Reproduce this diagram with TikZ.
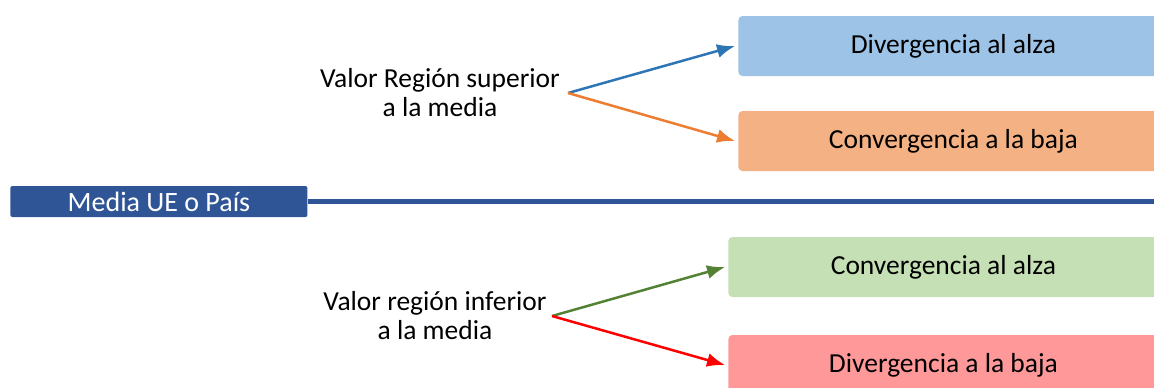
\documentclass[tikz,border=0pt]{standalone}
\usepackage{fontspec}
\setmainfont{Carlito}
\usetikzlibrary{arrows,arrows.meta,positioning}
\definecolor{boxblue}{HTML}{9DC3E6}
\definecolor{boxorange}{HTML}{F4B183}
\definecolor{boxgreen}{HTML}{C5E0B4}
\definecolor{boxred}{HTML}{FF9999}
\definecolor{darkblue}{HTML}{2F5597}
\definecolor{arrblue}{HTML}{2E75B6}
\definecolor{arrorange}{HTML}{ED7D31}
\definecolor{arrgreen}{HTML}{548235}
\definecolor{arrred}{HTML}{FF0000}

\begin{document}
\begin{tikzpicture}[
        x=0.5pt, y=-0.5pt,
        font=\fontsize{13.75}{14.5}\selectfont,
        result/.style={
          anchor=west,
          fill=#1,
          rounded corners=2pt,
          inner sep=0pt,
          minimum width=215pt,
          minimum height=30pt
        },
        label/.style={
          align=center,
          inner sep=0pt
        },
        branch/.style={
          -{Latex[length=9pt,width=7pt]},
          draw=#1,
          line width=1.25pt
        }]

        \useasboundingbox (0,0) rectangle (1154,387);
        \clip (0,0) rectangle (1154,387);

        % Result boxes.
        \node[result=boxblue]   (divup)   at (738,46)  {Divergencia al alza};
        \node[result=boxorange] (convdn)  at (738,141) {Convergencia a la baja};
        \node[result=boxgreen]  (convup)  at (728,267) {Convergencia al alza};
        \node[result=boxred]    (divdn)   at (728,365) {Divergencia a la baja};

        % Mean line.
        \node[fill=darkblue, text=white, rounded corners=1pt, anchor=west,
          minimum width=148.5pt, minimum height=15.5pt, inner sep=0pt,
          font=\fontsize{14}{16}\selectfont]
          (media) at (10,201.5) {Media UE o País};
        \coordinate (lineend) at (1160,201.5);
        \draw[darkblue, line width=2.5pt] (media.east) -- (lineend);

        % Region labels.
        \node[label] (sup) at (440,93) {Valor Región superior\\a la media};
        \node[label] (inf) at (435,316) {Valor región inferior\\a la media};
        \coordinate (supfork) at (568,93);
        \coordinate (inffork) at (552,316);

        % Arrows.
        \draw[branch=arrblue]   (supfork) -- ([xshift=-1.5pt] divup.west);
        \draw[branch=arrorange] (supfork) -- ([xshift=-1.5pt] convdn.west);
        \draw[branch=arrgreen]  (inffork) -- ([xshift=-1.5pt] convup.west);
        \draw[branch=arrred]    (inffork) -- ([xshift=-1.5pt] divdn.west);
      \end{tikzpicture}
\end{document}
